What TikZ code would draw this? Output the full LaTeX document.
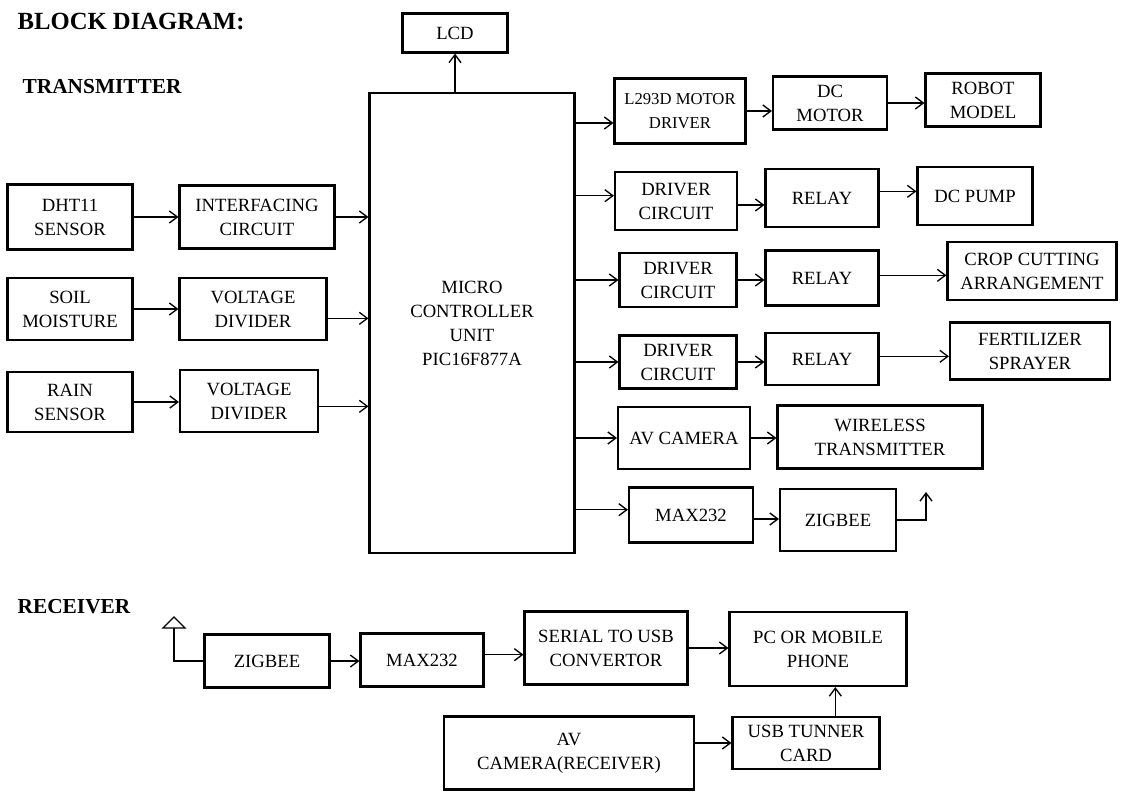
\documentclass[tikz,border=0pt]{standalone}
\usepackage{fontspec}
\setmainfont{Liberation Serif}
\usetikzlibrary{positioning, arrows.meta, calc}

\begin{document}
\begin{tikzpicture}[x=0.75pt, y=-0.75pt,
		blk/.style={draw, line width=1.6pt, align=center, inner sep=0pt, font=\fontsize{14}{18}\selectfont},
		sz/.style 2 args={minimum width=#1*0.75pt, minimum height=#2*0.75pt},
		arrow/.style={-{Straight Barb[length=6pt, width=9pt]}, line width=1pt},
		wire/.style={line width=1pt},
		heading/.style={font=\bfseries\fontsize{16}{19}\selectfont, anchor=west}
		]
		\useasboundingbox (0,0) rectangle (1127,794);
		
		% ----- Headings -----
		\node[heading, font=\bfseries\fontsize{18.5}{22}\selectfont] (title) at (13,22) {BLOCK DIAGRAM:};
		\node[heading] (tx) at (18,87) {TRANSMITTER};
		\node[heading] (rx) at (13,607) {RECEIVER};
		
		% ----- Transmitter -----
		\node[blk, sz={205}{460}] (mcu) at (472,323) {MICRO\\CONTROLLER\\UNIT\\PIC16F877A};
		\node[blk, sz={105}{39}] (lcd) at (455,33) {LCD};
		\draw[arrow] (lcd.south |- mcu.north) -- (lcd.south);
		
		% Sensor inputs
		\node[blk, sz={125}{65}] (dht) at (70,217) {DHT11\\SENSOR};
		\node[blk, sz={155}{63}] (intf) at (257,217) {INTERFACING\\CIRCUIT};
		\node[blk, sz={125}{62}] (soil) at (70,309) {SOIL\\MOISTURE};
		\node[blk, sz={147}{62}] (vd1) at (253,309) {VOLTAGE\\DIVIDER};
		\node[blk, sz={125}{60}] (rain) at (70,402) {RAIN\\SENSOR};
		\node[blk, sz={138}{62}] (vd2) at (249,401) {VOLTAGE\\DIVIDER};
		
		\draw[arrow] (dht) -- (intf);
		\draw[arrow] (soil) -- (soil -| vd1.west);
		\draw[arrow] (rain) -- (rain -| vd2.west);
		\draw[arrow] (intf) -- (intf -| mcu.west);
		\draw[arrow] ([yshift=-7pt]vd1.east) -- ([yshift=-7pt]vd1.east -| mcu.west);
		\draw[arrow] ([yshift=-4pt]vd2.east) -- ([yshift=-4pt]vd2.east -| mcu.west);
		
		% Outputs
		\node[blk, sz={131}{65}, font=\fontsize{12.5}{18}\selectfont] (l293) at (680,111) {L293D MOTOR\\DRIVER};
		\node[blk, sz={114}{53}] (dcm) at (830,103) {DC\\MOTOR};
		\node[blk, sz={115}{53}] (robot) at (983,100) {ROBOT\\MODEL};
		
		\node[blk, sz={122}{58}] (drv1) at (676,201) {DRIVER\\CIRCUIT};
		\node[blk, sz={113}{58}] (rel1) at (822,198) {RELAY};
		\node[blk, sz={115}{58}] (pump) at (975,196) {DC PUMP};
		
		\node[blk, sz={117}{54}] (drv2) at (678,280) {DRIVER\\CIRCUIT};
		\node[blk, sz={113}{55}] (rel2) at (822,278) {RELAY};
		\node[blk, sz={169}{58}] (crop) at (1032,271) {CROP CUTTING\\ARRANGEMENT};
		
		\node[blk, sz={117}{53}] (drv3) at (678,362) {DRIVER\\CIRCUIT};
		\node[blk, sz={113}{52}] (rel3) at (822,359) {RELAY};
		\node[blk, sz={160}{57}] (fert) at (1030,351) {FERTILIZER\\SPRAYER};
		
		\node[blk, sz={132}{62}] (avc) at (684,438) {AV CAMERA};
		\node[blk, sz={205}{63}] (wtx) at (880,437) {WIRELESS\\TRANSMITTER};
		
		\node[blk, sz={124}{55}] (max1) at (691,515) {MAX232};
		\node[blk, sz={116}{62}] (zig1) at (838,520) {ZIGBEE};
		\coordinate (tant) at (926,492);
		
		\draw[arrow] ([yshift=-9pt]l293.west -| mcu.east) -- ([yshift=-9pt]l293.west);
		\draw[arrow] ([yshift=4pt]drv1.west -| mcu.east) -- ([yshift=4pt]drv1.west);
		\draw[arrow] (drv2.west -| mcu.east) -- (drv2.west);
		\draw[arrow] (drv3.west -| mcu.east) -- (drv3.west);
		\draw[arrow] (avc.west -| mcu.east) -- (avc.west);
		\draw[arrow] ([yshift=4pt]max1.west -| mcu.east) -- ([yshift=4pt]max1.west);
		
		\draw[arrow] (l293) -- (l293 -| dcm.west);
		\draw[arrow] (dcm) -- (dcm -| robot.west);
		\draw[arrow] ([yshift=-3pt]drv1.east) -- ([yshift=-3pt]drv1.east -| rel1.west);
		\draw[arrow] ([yshift=5pt]rel1.east) -- ([yshift=5pt]rel1.east -| pump.west);
		\draw[arrow] (drv2) -- (drv2 -| rel2.west);
		\draw[arrow] ([yshift=2pt]rel2.east) -- ([yshift=2pt]rel2.east -| crop.west);
		\draw[arrow] (drv3) -- (drv3 -| rel3.west);
		\draw[arrow] ([yshift=2pt]rel3.east) -- ([yshift=2pt]rel3.east -| fert.west);
		\draw[arrow] (avc) -- (avc -| wtx.west);
		\draw[arrow] ([yshift=-3pt]max1.east) -- ([yshift=-3pt]max1.east -| zig1.west);
		\draw[arrow] (zig1.east) -| (tant);
		
		% ----- Receiver -----
		\node[blk, sz={125}{53}] (zig2) at (267,661) {ZIGBEE};
		\node[blk, sz={123}{53}] (max2) at (422,660) {MAX232};
		\node[blk, sz={163}{73}] (ser) at (606,648) {SERIAL TO USB\\CONVERTOR};
		\node[blk, sz={177}{74}] (pc) at (818,649) {PC OR MOBILE\\PHONE};
		\node[blk, sz={250}{73}] (avr) at (569,753) {AV\\CAMERA(RECEIVER)};
		\node[blk, sz={147}{52}] (usb) at (806,743) {USB TUNNER\\CARD};
		\coordinate (rant) at (174,628);
		
		\draw[wire] (zig2.west) -| (rant);
		\draw[wire] (rant) -- ++(-11,0) -- ++(11,-11) -- ++(11,11) -- cycle;
		\draw[arrow] (zig2) -- (zig2 -| max2.west);
		\draw[arrow] ([yshift=4pt]max2.east) -- ([yshift=4pt]max2.east -| ser.west);
		\draw[arrow] (ser) -- (ser -| pc.west);
		\draw[arrow] (avr.east |- usb.west) -- (usb.west);
		\draw[arrow] ([xshift=22pt]usb.north) -- ([xshift=22pt]usb.north |- pc.south);
		
	\end{tikzpicture}
\end{document}
